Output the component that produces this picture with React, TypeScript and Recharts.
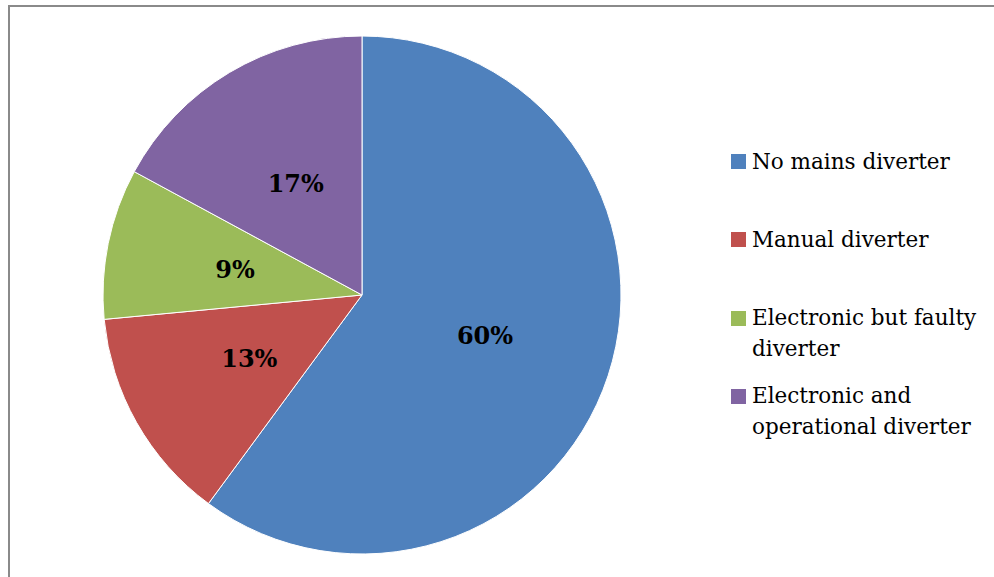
import React from 'react';
import { PieChart, Pie, Cell, Legend } from 'recharts';

const categories = [
  'No mains diverter',
  'Manual diverter',
  'Electronic but faulty diverter',
  'Electronic and operational diverter',
];
const shares = [60.1, 13.4, 9.4, 17.1];
const sliceLabels = ['60%', '13%', '9%', '17%'];
const colors = ['#4F81BD', '#C0504D', '#9BBB59', '#8064A2'];

const data = categories.map((name, i) => ({ name, value: shares[i], label: sliceLabels[i] }));

const RADIAN = Math.PI / 180;
const FONT = '"DejaVu Serif", serif';

const renderLabel = (props: any) => {
  const { cx, cy, midAngle, outerRadius, index } = props;
  const r = outerRadius * 0.5;
  const x = cx + r * Math.cos(-midAngle * RADIAN);
  const y = cy + r * Math.sin(-midAngle * RADIAN);
  return (
    <text
      x={x}
      y={y}
      textAnchor="middle"
      dominantBaseline="central"
      fill="#000"
      fontFamily={FONT}
      fontWeight="bold"
      fontSize={24}
    >
      {data[index].label}
    </text>
  );
};

const LegendBox = () => (
  <div style={{ position: 'relative', width: 263, height: 320, fontFamily: FONT, fontSize: 21.5 }}>
    {categories.map((name, i) => (
      <div
        key={name}
        style={{ position: 'absolute', left: 0, top: i * 78.3, display: 'flex', alignItems: 'flex-start' }}
      >
        <div style={{ width: 15, height: 15, background: colors[i], marginTop: 8.5, marginRight: 6, flexShrink: 0 }} />
        <div style={{ width: 240, lineHeight: '31px', color: '#000' }}>{name}</div>
      </div>
    ))}
  </div>
);

export default function App() {
  return (
    <div style={{ position: 'absolute', left: 0, top: 0, width: 994, height: 577, background: '#fff' }}>
      <div style={{ position: 'absolute', left: 8, top: 5, width: 986, height: 2, background: '#8a8a8a' }} />
      <div style={{ position: 'absolute', left: 8, top: 5, width: 2, height: 572, background: '#8a8a8a' }} />
      <PieChart
        width={994}
        height={577}
        margin={{ top: 0, right: 0, bottom: 0, left: 0 }}
        style={{ position: 'absolute', left: 0, top: 0 }}
      >
        <Pie
          data={data}
          dataKey="value"
          nameKey="name"
          cx={362}
          cy={295}
          outerRadius={259}
          startAngle={90}
          endAngle={-270}
          stroke="#ffffff"
          strokeWidth={1}
          label={renderLabel}
          labelLine={false}
          isAnimationActive={false}
        >
          {data.map((d, i) => (
            <Cell key={d.name} fill={colors[i]} />
          ))}
        </Pie>
        <Legend
          content={<LegendBox />}
          wrapperStyle={{ position: 'absolute', left: 731, top: 145.5, width: 263, height: 320 }}
        />
      </PieChart>
    </div>
  );
}
